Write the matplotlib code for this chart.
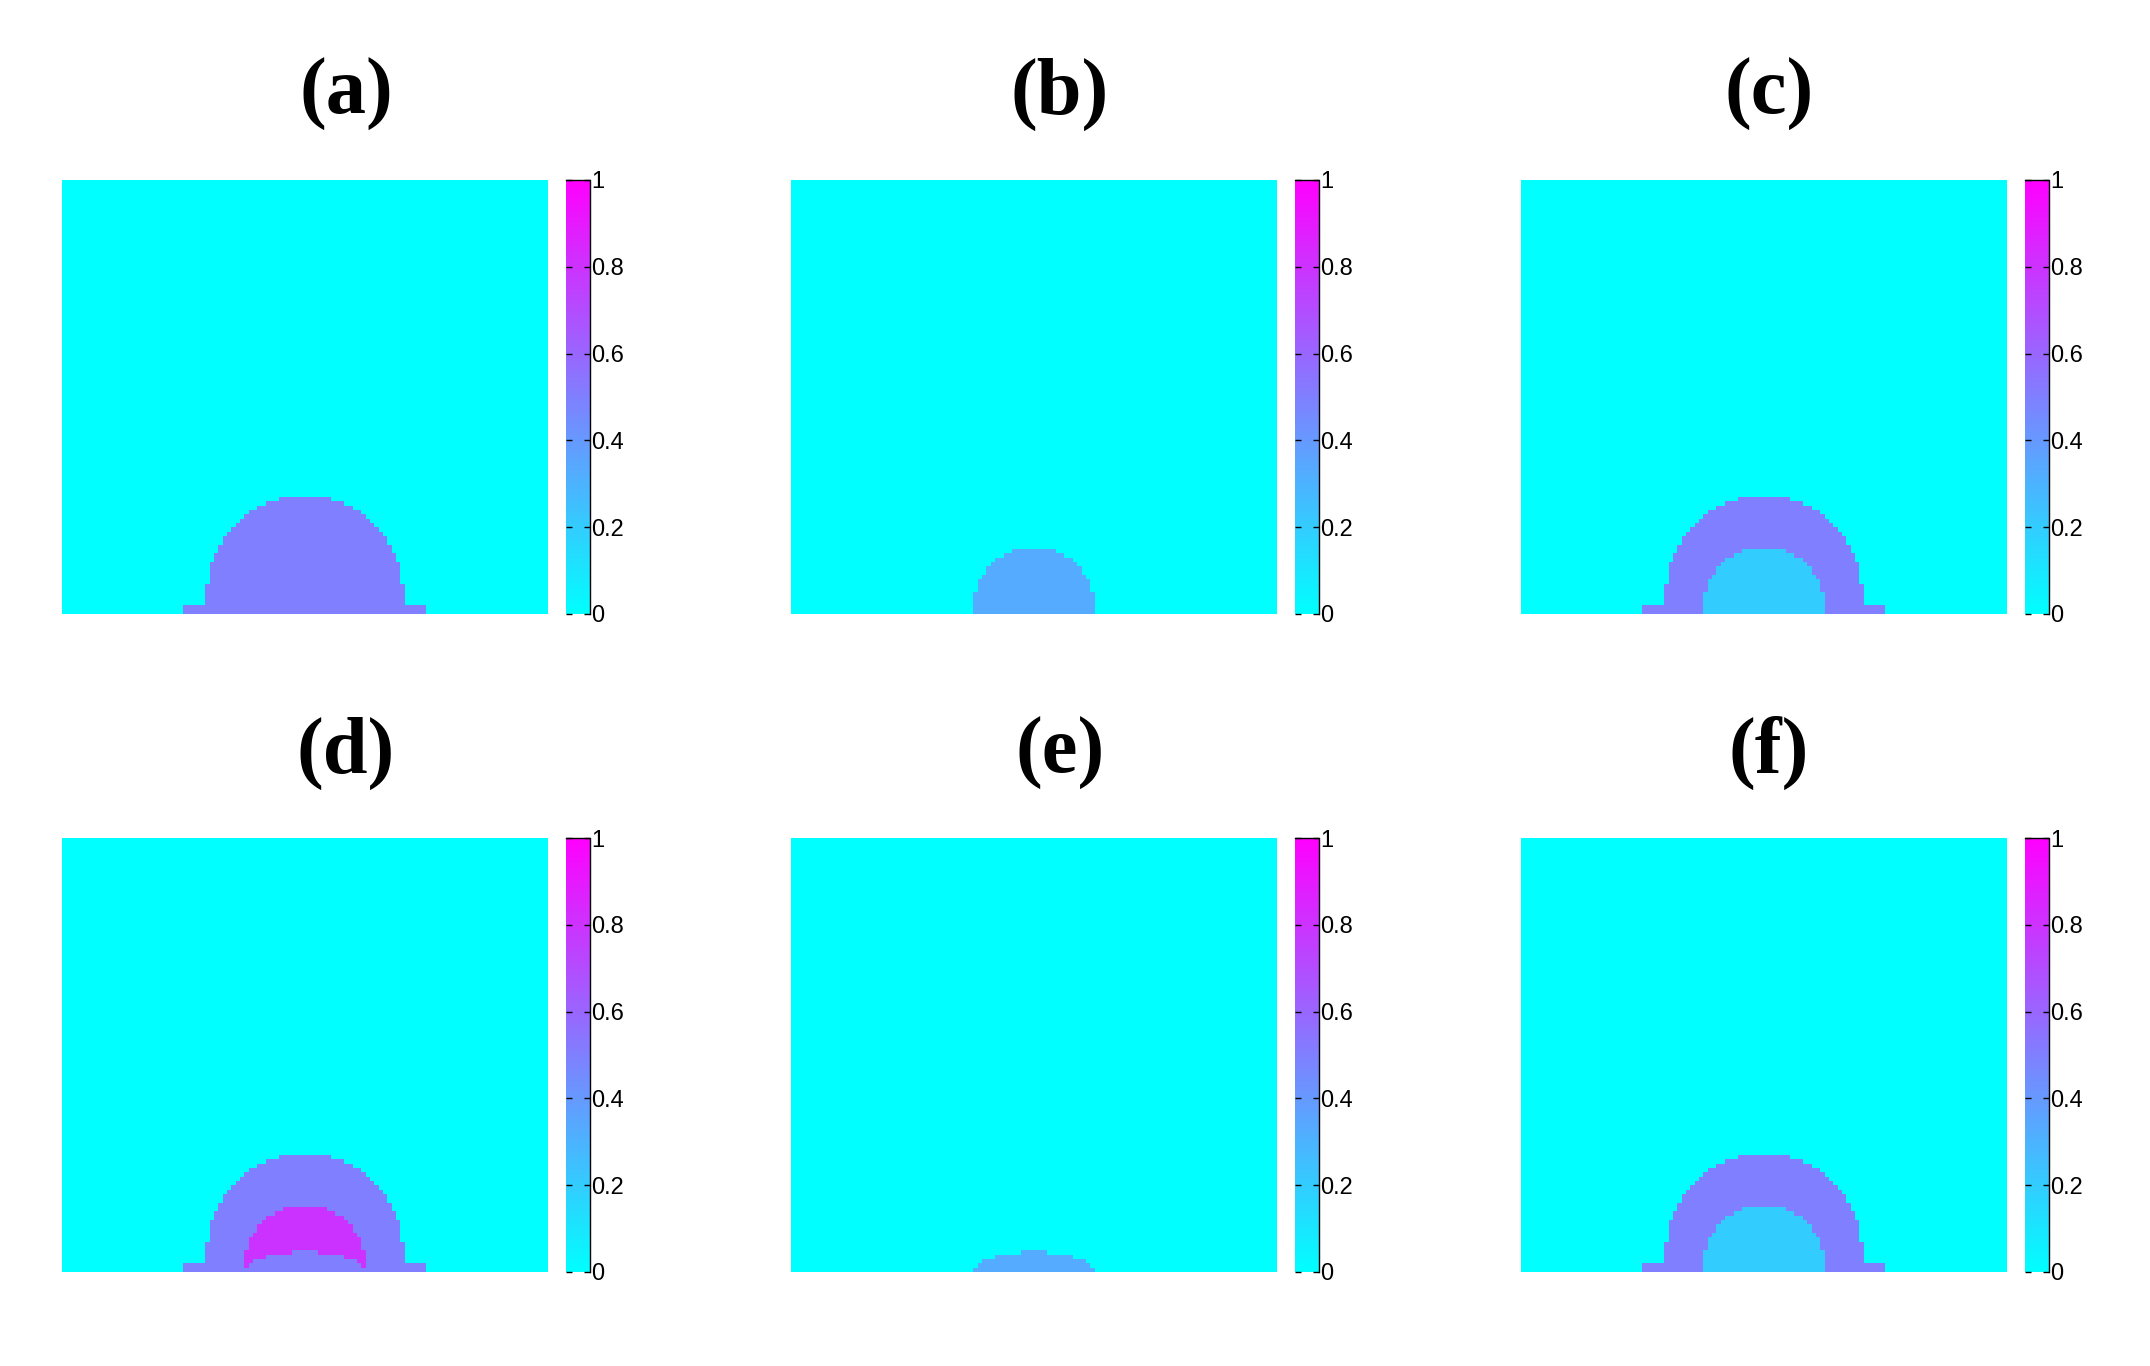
import numpy as np
import matplotlib
matplotlib.use('Agg')
import matplotlib.pyplot as plt

# grid size (cells) of each field
nx = 112
ny = 100
xc = nx / 2.0

panel_labels = ['(a)', '(b)', '(c)', '(d)', '(e)', '(f)']

# layers drawn in order, sizes in cells
# 'rect' = (value, half width, height) flat strip on the bottom
# 'dome' = (value, radius, raise) circle whose centre sits 'raise' cells above the bottom
# 'ell'  = (value, half width, height) flat half ellipse on the bottom
layers_a = [('rect', 0.5, 28.0, 2.5), ('dome', 0.5, 22.6, 4.8)]
layers_b = [('dome', 0.33, 13.9, 1.6)]
layers_c = [('rect', 0.5, 28.0, 2.5), ('dome', 0.5, 22.6, 4.8), ('dome', 0.2, 13.9, 1.6)]
layers_d = [('rect', 0.5, 28.0, 2.5), ('dome', 0.5, 22.6, 4.8), ('dome', 0.8, 13.9, 1.6),
            ('ell', 0.5, 14.0, 4.6)]
layers_e = [('ell', 0.33, 14.0, 4.6)]
layers_f = [('rect', 0.5, 28.0, 2.5), ('dome', 0.5, 22.6, 4.8), ('dome', 0.2, 13.9, 1.6)]
all_layers = [layers_a, layers_b, layers_c, layers_d, layers_e, layers_f]

cbar_ticks = [0, 0.2, 0.4, 0.6, 0.8, 1]
cbar_ticklabels = ['0', '0.2', '0.4', '0.6', '0.8', '1']


def build_field(layers):
    X, Y = np.meshgrid(np.arange(nx) + 0.5, np.arange(ny) + 0.5)
    Z = np.zeros((ny, nx))
    for kind, val, a, b in layers:
        dx = X - xc
        if kind == 'rect':
            mask = (np.abs(dx) < a) & (Y < b)
        elif kind == 'dome':
            mask = (np.abs(dx) <= a) & ((Y <= b) | (dx ** 2 + (Y - b) ** 2 <= a ** 2))
        else:
            mask = (dx / a) ** 2 + (Y / b) ** 2 <= 1.0
        Z[mask] = val
    return Z


W, H = 2150, 1366
fig = plt.figure(figsize=(W / 100, H / 100), dpi=100)

col_left = [62, 791, 1521]
row_top = [180, 838]
img_w, img_h = 486, 434
cb_off, cb_w = 504, 24
title_x = [346, 1060, 1769]
title_y = [94, 753]

for i, layers in enumerate(all_layers):
    r, c = divmod(i, 3)
    left = col_left[c]
    top = row_top[r]
    ax = fig.add_axes([left / W, 1 - (top + img_h) / H, img_w / W, img_h / H])
    Z = build_field(layers)
    im = ax.imshow(Z, cmap='cool', vmin=0, vmax=1, origin='lower',
                   interpolation='nearest', aspect='auto', extent=(0, nx, 0, ny))
    ax.axis('off')

    cax = fig.add_axes([(left + cb_off) / W, 1 - (top + img_h) / H, cb_w / W, img_h / H])
    cb = fig.colorbar(im, cax=cax, ticks=cbar_ticks)
    cb.ax.set_yticklabels(cbar_ticklabels, family=['Liberation Sans', 'DejaVu Sans'], fontsize=17)
    cb.ax.tick_params(direction='in', length=4, width=1, pad=1, left=True, right=True)
    cb.outline.set_visible(False)
    cax.plot([0, 1, 1], [1, 1, 0], transform=cax.transAxes, color='black',
             linewidth=1.0, clip_on=False)

    fig.text(title_x[c] / W, 1 - title_y[r] / H, panel_labels[i], ha='center', va='center',
             fontsize=58, fontweight='bold', family=['Liberation Serif', 'DejaVu Serif'])

fig.savefig('out.png', dpi=100)
